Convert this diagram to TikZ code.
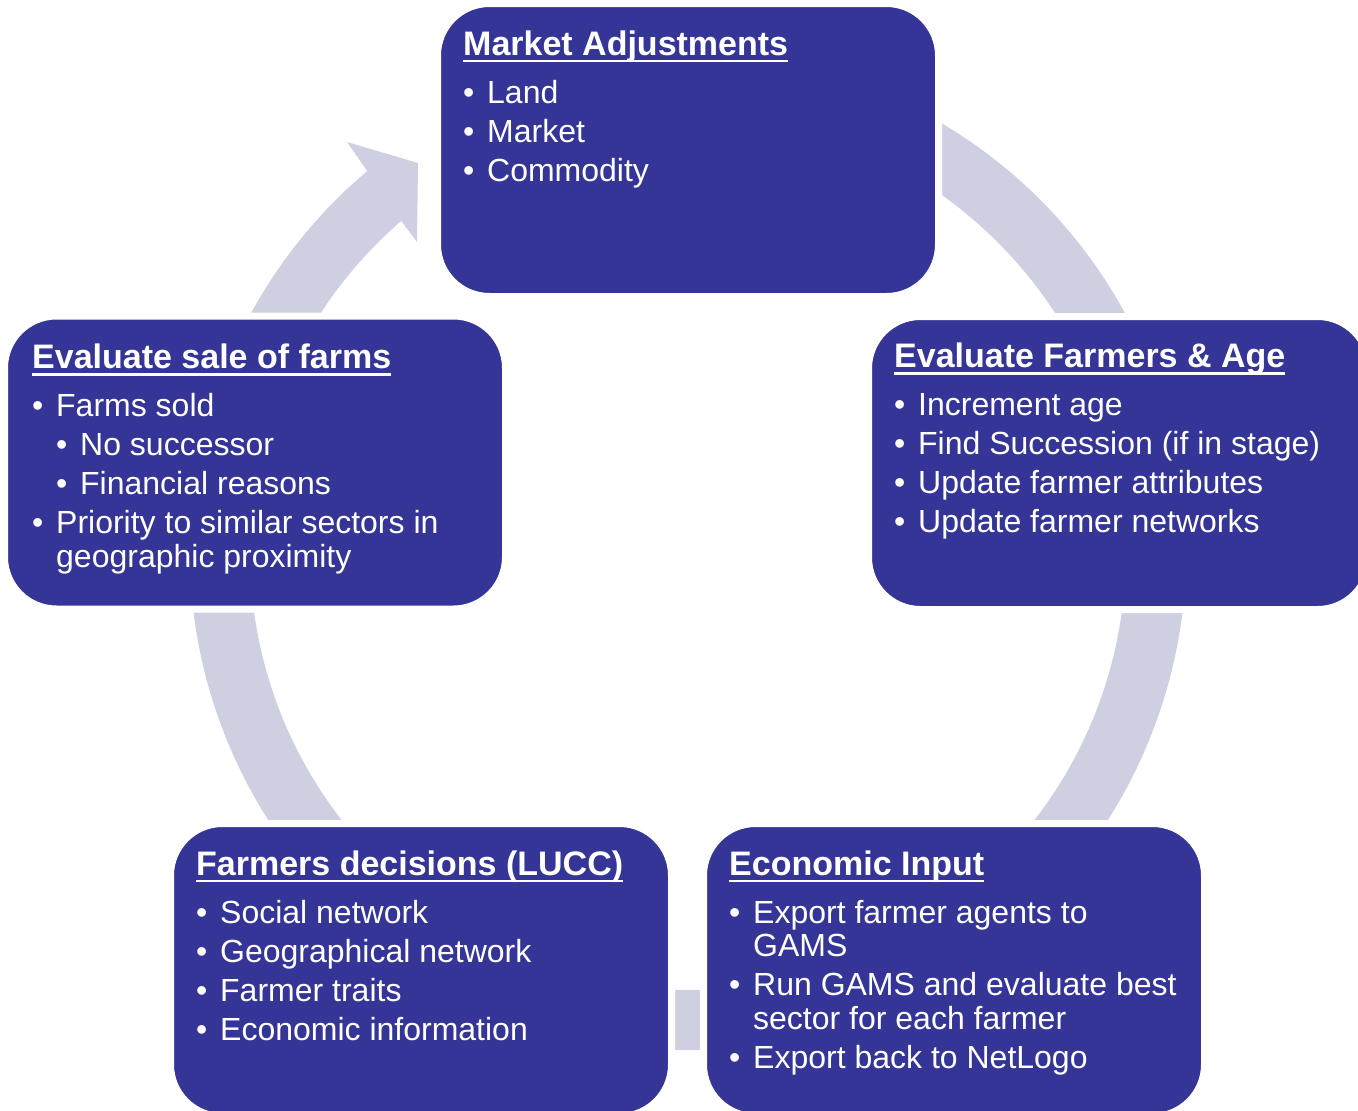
\documentclass[tikz,border=0pt]{standalone}
\usepackage{fontspec}
\setmainfont{Liberation Sans}
\usepackage{tikz}

\definecolor{stageblue}{RGB}{53,53,151}
\definecolor{ringgrey}{RGB}{207,207,226}

\newcommand\stagetitle[1]{{\bfseries\fontsize{34}{40}\selectfont\setbox0\hbox{#1}\rlap{\rule[-7pt]{\wd0}{2.3pt}}\box0}\par\vspace{9pt}}
\newcommand\bul[1]{\par\hangindent=24pt\hangafter=1\noindent\makebox[24pt][l]{\textbullet}#1\par}
\newcommand\subbul[1]{\par\hangindent=48pt\hangafter=1\noindent\hspace*{24pt}\makebox[24pt][l]{\textbullet}#1\par}

\begin{document}
\begin{tikzpicture}
[
    x = 1pt, y = -1pt,
    stage/.style = {rectangle, rounded corners = 52pt, fill = stageblue, draw = white, line width = 7pt,
        minimum width = 501pt, minimum height = 293pt, inner sep = 0pt, outer sep = 0pt},
    stagetext/.style = {anchor = base west, inner sep = 0pt, text width = 455pt, align = left, text = white,
        execute at begin node = {\fontsize{32}{33.5}\selectfont\raggedright\spaceskip=0pt\xspaceskip=0pt
            \hyphenpenalty=10000\setlength{\parskip}{5.5pt}}},
]
\useasboundingbox (0,0) rectangle (1358,1111);

% the cycle arrow, drawn first so the stages sit on top of it
\coordinate (hub) at (688,552);
\fill[ringgrey] (hub) ++(-70:498) arc[start angle = -70, end angle = 229.9, radius = 498]
    -- (347,142) -- (418,163) -- (417,242) -- (401.2,220.9)
    arc[start angle = 229.1, end angle = -70, radius = 438] -- cycle;

% stages
\node[stage] (market) at (688,150) {};
\node[stage] (farmers) at (1119,463) {};
\node[stage] (economic) at (954,970) {};
\node[stage] (decisions) at (421,970) {};
\node[stage] (sale) at (255,462.5) {};

\node[stagetext] (market-text) at ([shift = {(25.5,51.5)}]market.north west)
{
    \stagetitle{Market Adjustments}
    \bul{Land}
    \bul{Market}
    \bul{Commodity}
};
\node[stagetext] (farmers-text) at ([shift = {(25.5,51)}]farmers.north west)
{
    \stagetitle{Evaluate Farmers \& Age}
    \bul{Increment age}
    \bul{Find Succession (if in stage)}
    \bul{Update farmer attributes}
    \bul{Update farmer networks}
};
\node[stagetext] (economic-text) at ([shift = {(25.5,51.5)}]economic.north west)
{
    \stagetitle{Economic Input}
    \bul{Export farmer agents to GAMS}
    \bul{Run GAMS and evaluate best sector for each farmer}
    \bul{Export back to NetLogo}
};
\node[stagetext] (decisions-text) at ([shift = {(25.5,51.5)}]decisions.north west)
{
    \stagetitle{Farmers decisions (LUCC)}
    \bul{Social network}
    \bul{Geographical network}
    \bul{Farmer traits}
    \bul{Economic information}
};
\node[stagetext] (sale-text) at ([shift = {(27.5,52.5)}]sale.north west)
{
    \stagetitle{Evaluate sale of farms}
    \bul{Farms sold}
    \subbul{No successor}
    \subbul{Financial reasons}
    \bul{Priority to similar sectors in geographic proximity}
};
\end{tikzpicture}
\end{document}
